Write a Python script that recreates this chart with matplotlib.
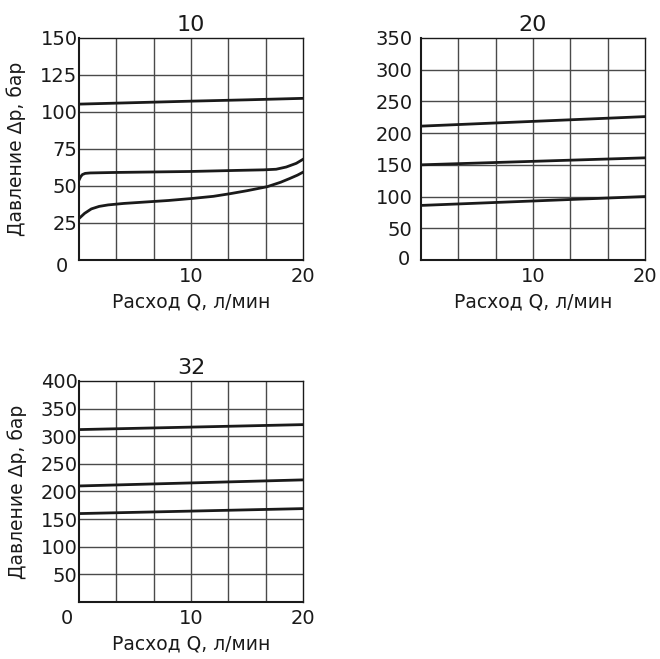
import matplotlib.pyplot as plt
import matplotlib.transforms as mtransforms
import numpy as np

plt.rcParams['font.family'] = ['DejaVu Sans']

# chart data
titles = ['10', '20', '32']

# DN 10
q10_top = [0, 5, 10, 15, 20]
p10_top = [105.3, 106.3, 107.3, 108.2, 109.2]
q10_mid = [0, 0.15, 0.3, 0.55, 1, 3, 6, 10, 14, 16.5, 17.6, 18.5, 19.4, 20]
p10_mid = [54, 56.3, 57.7, 58.5, 58.8, 59.1, 59.4, 59.8, 60.5, 60.9, 61.3, 62.8, 65.3, 68]
q10_low = [0, 0.5, 1.1, 1.8, 2.6, 4, 6, 8, 10, 12, 13.5, 15, 16.8, 18, 18.8, 19.5, 20]
p10_low = [28, 31.5, 34.5, 36.2, 37.2, 38.2, 39.2, 40.2, 41.5, 43, 44.8, 46.8, 49.5, 52.5, 55, 57.3, 59.3]

# DN 20
q20 = [0, 20]
p20_top = [211, 226]
p20_mid = [150, 161]
p20_low = [86, 100]

# DN 32
q32 = [0, 20]
p32_top = [312, 321]
p32_mid = [210, 221]
p32_low = [160, 169]

fig = plt.figure(figsize=(6.6, 6.59), dpi=100)
ax1 = fig.add_axes([0.1197, 0.6055, 0.3394, 0.3369])
ax2 = fig.add_axes([0.6379, 0.6055, 0.3394, 0.3369])
ax3 = fig.add_axes([0.1197, 0.0865, 0.3394, 0.3354])

xgrid = np.linspace(0, 20, 7)
lc = '#1a1a1a'
gc = '#4a4a4a'


def setup(ax, title, ymax, ystep, ylabel, ypad):
    ax.set_xlim(0, 20)
    ax.set_ylim(0, ymax)
    for x in xgrid[1:-1]:
        ax.axvline(x, color=gc, lw=1.0, zorder=1)
    for y in np.arange(ystep, ymax, ystep):
        ax.axhline(y, color=gc, lw=1.0, zorder=1)
    ax.set_xticks([10, 20])
    ax.set_xticklabels(['10', '20'])
    ax.tick_params(length=0, labelsize=14, colors='#1a1a1a')
    ax.tick_params(axis='x', pad=5)
    ax.tick_params(axis='y', pad=ypad)
    for s in ax.spines.values():
        s.set_color('#1a1a1a')
        s.set_linewidth(1.0)
    ax.spines['left'].set_linewidth(1.5)
    ax.spines['bottom'].set_linewidth(1.5)
    ax.set_title(title, fontsize=16, color='#1a1a1a', pad=5)
    ax.set_xlabel('Расход Q, л/мин', fontsize=13.5, color='#1a1a1a', labelpad=5)
    if ylabel:
        ax.set_ylabel('Давление Δp, бар', fontsize=13.5, color='#1a1a1a', labelpad=10)


def shift(label, dx, dy):
    off = mtransforms.ScaledTranslation(dx / 100, dy / 100, fig.dpi_scale_trans)
    label.set_transform(label.get_transform() + off)


setup(ax1, titles[0], 150, 25, True, 1)
ax1.set_yticks(np.arange(0, 151, 25))
ax1.plot(q10_top, p10_top, color=lc, lw=2.0, zorder=3)
ax1.plot(q10_mid, p10_mid, color=lc, lw=2.0, zorder=3)
ax1.plot(q10_low, p10_low, color=lc, lw=2.0, zorder=3)
shift(ax1.get_yticklabels()[0], -10, -5)

setup(ax2, titles[1], 350, 50, False, 6)
ax2.set_yticks(np.arange(0, 351, 50))
ax2.plot(q20, p20_top, color=lc, lw=2.0, zorder=3)
ax2.plot(q20, p20_mid, color=lc, lw=2.0, zorder=3)
ax2.plot(q20, p20_low, color=lc, lw=2.0, zorder=3)
shift(ax2.get_yticklabels()[0], -3, 2)

setup(ax3, titles[2], 400, 50, True, 1)
ax3.set_yticks(np.arange(50, 401, 50))
ax3.set_xticks([0, 10, 20])
ax3.set_xticklabels(['0', '10', '20'])
shift(ax3.get_xticklabels()[0], -12, 0)
ax3.plot(q32, p32_top, color=lc, lw=2.0, zorder=3)
ax3.plot(q32, p32_mid, color=lc, lw=2.0, zorder=3)
ax3.plot(q32, p32_low, color=lc, lw=2.0, zorder=3)

plt.savefig('out.png', dpi=100)
